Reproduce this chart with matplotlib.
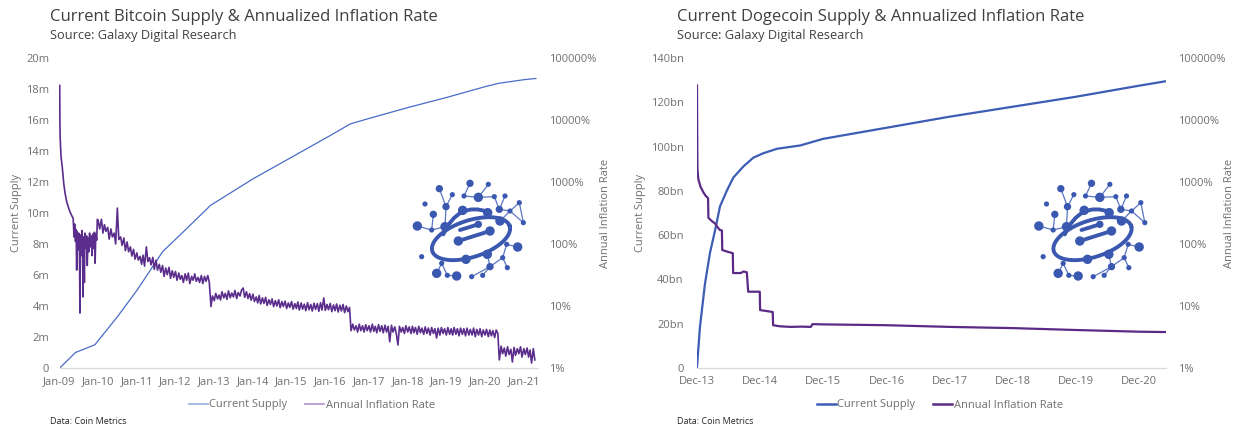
import numpy as np
import pandas as pd
import matplotlib
matplotlib.use('Agg')
import matplotlib.pyplot as plt
from matplotlib.lines import Line2D
from matplotlib.path import Path
from matplotlib.patches import PathPatch
from matplotlib.ticker import FixedLocator, FixedFormatter, NullLocator

plt.rcParams['font.family'] = ['Open Sans', 'DejaVu Sans']

# ------------------------------------------------------------------ data
# Bitcoin supply (millions)
btc_supply_dates = ['2009-01-03', '2009-06-01', '2009-12-01', '2010-07-01', '2011-01-01',
                    '2011-09-01', '2012-04-01', '2012-11-28', '2014-01-01', '2015-01-01',
                    '2016-01-01', '2016-07-09', '2017-01-01', '2018-01-01', '2019-01-01',
                    '2020-01-01', '2020-05-11', '2021-01-01', '2021-04-25']
btc_supply_m = [0.0, 1.0, 1.5, 3.3, 5.0, 7.5, 8.9, 10.5, 12.2, 13.6,
                15.0, 15.75, 16.1, 16.8, 17.45, 18.15, 18.37, 18.6, 18.68]

# Bitcoin annualized inflation (%) - 2009 explicit points
btc_infl_2009_dates = ['2009-01-03', '2009-01-05', '2009-01-07', '2009-01-15', '2009-01-27',
                       '2009-02-10', '2009-02-22', '2009-03-10', '2009-03-25', '2009-04-10',
                       '2009-04-25', '2009-05-10', '2009-05-18', '2009-05-24', '2009-06-01',
                       '2009-06-07', '2009-06-12', '2009-06-17', '2009-06-24', '2009-07-01',
                       '2009-07-08', '2009-07-13', '2009-07-18', '2009-07-25', '2009-08-01',
                       '2009-08-07', '2009-08-11', '2009-08-16', '2009-08-24', '2009-08-29',
                       '2009-09-06', '2009-09-14', '2009-09-20', '2009-09-27', '2009-10-05',
                       '2009-10-12', '2009-10-20', '2009-10-28', '2009-11-05', '2009-11-12',
                       '2009-11-20', '2009-11-27', '2009-12-03', '2009-12-10', '2009-12-18',
                       '2009-12-24']
btc_infl_2009 = [36000, 9000, 5300, 2600, 1750, 950, 665, 480, 395, 330,
                 290, 260, 130, 210, 110, 170, 38, 160, 80, 150,
                 95, 7.7, 140, 65, 165, 90, 14, 130, 24, 150,
                 85, 135, 45, 125, 75, 150, 90, 135, 65, 145,
                 85, 155, 49, 145, 115, 250]
# semi-monthly readings (1st and 15th of each month)
btc_infl_2010 = [240, 175, 250, 150, 205, 160, 185, 120, 175, 130, 150, 100,
                 380, 118, 130, 95, 125, 78, 108, 75, 90, 64, 82, 57]
btc_infl_2011 = [72, 55, 63, 47, 66, 44, 90, 52, 60, 46, 61, 39,
                 55, 38, 47, 35, 45, 30, 41, 32, 42, 28, 37, 29]
btc_infl_2012 = [36, 26, 34, 27, 31, 24, 33, 26, 34, 23, 30, 26,
                 33, 25, 29, 24, 31, 23, 30, 25, 31, 24, 9.8, 14.5]
btc_infl_2013 = [12.2, 16, 13, 15, 12.5, 17, 13.5, 16, 12.8, 17.5, 13.6, 16.2,
                 14, 17.8, 13.2, 16.5, 14.5, 18, 19.5, 13.8, 17, 13.2, 15.8, 12.4]
btc_infl_2014 = [15.5, 11.8, 14, 11.2, 14.8, 10.8, 13.5, 11, 13.8, 10.2, 12.6, 10.6,
                 13, 9.8, 12.2, 10, 12.6, 9.4, 11.8, 9.8, 12, 9.1, 11.2, 9.5]
btc_infl_2015 = [11.8, 8.9, 10.9, 9.1, 11.6, 8.6, 11.2, 8.9, 10.7, 8.4, 11.3, 8.7,
                 10.6, 8.3, 11.1, 8.8, 10.9, 8.2, 11.3, 8.6, 13.5, 8.5, 10.6, 8.7]
btc_infl_2016 = [11, 8.1, 10.4, 8.4, 10.8, 8, 10.3, 8.3, 10.6, 7.8, 10, 8.1,
                 9.5, 4.0, 5.1, 4.1, 4.8, 3.8, 5.1, 4.0, 4.8, 3.8, 5.0, 4.0]
btc_infl_2017 = [4.8, 3.8, 5.1, 3.9, 4.7, 3.7, 5.0, 3.9, 4.8, 3.7, 4.9, 3.8,
                 4.7, 2.65, 4.9, 3.8, 4.6, 3.6, 2.35, 4.7, 3.8, 4.5, 3.6, 4.8]
btc_infl_2018 = [3.8, 4.6, 3.6, 4.7, 3.7, 4.5, 3.5, 4.7, 3.7, 4.4, 3.5, 4.6,
                 3.6, 4.4, 3.4, 4.5, 3.6, 4.3, 3.05, 4.4, 3.4, 4.5, 3.6, 4.3]
btc_infl_2019 = [3.4, 4.5, 3.5, 4.3, 3.4, 4.5, 3.5, 4.3, 3.3, 4.4, 3.5, 4.3,
                 3.3, 4.4, 3.4, 4.2, 3.4, 4.4, 3.2, 4.2, 3.4, 4.3, 3.2, 4.1]
btc_infl_2020 = [3.4, 4.2, 3.2, 4.1, 3.3, 4.0, 3.1, 4.1, 3.6, 1.35, 2.25, 1.7,
                 2.1, 1.55, 2.2, 1.65, 2.0, 1.25, 2.15, 1.6, 2.05, 1.7, 2.2, 1.5]
btc_infl_2021 = [2.05, 1.65, 2.1, 1.5, 1.95, 1.2, 2.05, 1.35]

btc_ticks = ['2009-01-01', '2010-01-01', '2011-01-01', '2012-01-01', '2013-01-01',
             '2014-01-01', '2015-01-01', '2016-01-01', '2017-01-01', '2018-01-01',
             '2019-01-01', '2020-01-01', '2021-01-01']
btc_tick_labels = ['Jan-09', 'Jan-10', 'Jan-11', 'Jan-12', 'Jan-13', 'Jan-14', 'Jan-15',
                   'Jan-16', 'Jan-17', 'Jan-18', 'Jan-19', 'Jan-20', 'Jan-21']
btc_supply_ticks = [0, 2, 4, 6, 8, 10, 12, 14, 16, 18, 20]
btc_supply_labels = ['0', '2m', '4m', '6m', '8m', '10m', '12m', '14m', '16m', '18m', '20m']

# Dogecoin supply (billions)
doge_supply_dates = ['2013-12-06', '2013-12-23', '2014-01-21', '2014-02-19', '2014-03-20',
                     '2014-04-18', '2014-05-27', '2014-07-04', '2014-08-31', '2014-10-28',
                     '2014-12-25', '2015-03-13', '2015-07-26', '2015-12-06', '2016-12-06',
                     '2017-12-06', '2018-12-06', '2019-12-06', '2020-12-06', '2021-05-08']
doge_supply_bn = [0.5, 18.5, 38, 52, 62, 73, 80, 86, 91, 95,
                  97, 99, 100.5, 103.5, 108.5, 113.5, 118, 122.5, 127.5, 129.5]

# Dogecoin annualized inflation (%)
doge_infl_dates = ['2013-12-06', '2013-12-07', '2013-12-08', '2013-12-09', '2013-12-14',
                   '2013-12-27', '2014-01-12', '2014-01-25', '2014-02-08', '2014-02-10',
                   '2014-03-05', '2014-03-20', '2014-04-05', '2014-04-18', '2014-04-29',
                   '2014-05-01', '2014-06-01', '2014-07-01', '2014-07-03', '2014-08-15',
                   '2014-09-01', '2014-09-20', '2014-09-28', '2014-12-04', '2014-12-06',
                   '2015-02-17', '2015-02-19', '2015-04-01', '2015-06-01', '2015-08-01',
                   '2015-09-25', '2015-10-05', '2015-12-06', '2016-12-06', '2017-12-06',
                   '2018-12-06', '2019-12-06', '2020-12-06', '2021-05-08']
doge_infl = [36000, 7700, 2600, 1550, 1100, 830, 680, 600, 550, 264,
             230, 215, 185, 168, 165, 80, 75, 71, 34, 34,
             36, 35, 17, 17, 8.6, 8.0, 4.9, 4.7, 4.6, 4.65,
             4.6, 5.1, 5.05, 4.9, 4.6, 4.4, 4.1, 3.85, 3.8]

doge_ticks = ['2013-12-06', '2014-12-06', '2015-12-06', '2016-12-06', '2017-12-06',
              '2018-12-06', '2019-12-06', '2020-12-06']
doge_tick_labels = ['Dec-13', 'Dec-14', 'Dec-15', 'Dec-16', 'Dec-17', 'Dec-18',
                    'Dec-19', 'Dec-20']
doge_supply_ticks = [0, 20, 40, 60, 80, 100, 120, 140]
doge_supply_labels = ['0', '20bn', '40bn', '60bn', '80bn', '100bn', '120bn', '140bn']

infl_ticks = [1, 10, 100, 1000, 10000, 100000]
infl_labels = ['1%', '10%', '100%', '1000%', '10000%', '100000%']

# ------------------------------------------------------------------ assemble BTC inflation
btc_years = [(2010, btc_infl_2010), (2011, btc_infl_2011), (2012, btc_infl_2012),
             (2013, btc_infl_2013), (2014, btc_infl_2014), (2015, btc_infl_2015),
             (2016, btc_infl_2016), (2017, btc_infl_2017), (2018, btc_infl_2018),
             (2019, btc_infl_2019), (2020, btc_infl_2020), (2021, btc_infl_2021)]
bi_dates = list(pd.to_datetime(btc_infl_2009_dates))
bi_vals = list(btc_infl_2009)
for yr, vals in btc_years:
    d = pd.date_range(f'{yr}-01-01', periods=24, freq='SMS')[:len(vals)]
    bi_dates += list(d)
    bi_vals += list(vals)

# ------------------------------------------------------------------ figure
W, H = 1239, 429
fig = plt.figure(figsize=(W / 100, H / 100), dpi=100)

def rect(x0, y0, x1, y1):
    return [x0 / W, 1 - y1 / H, (x1 - x0) / W, (y1 - y0) / H]

TITLE_C = '#404040'
TICK_C = '#6f6f6f'
LAB_C = '#6f6f6f'
BLUE = '#4a6cc8'
PURPLE = '#5b2d8c'
BLUE_D = '#3d5cb4'
PURPLE_D = '#5a2a86'
LOGO_C = '#3a58b0'


def style_axes(ax, ax2, lpad, rpad):
    for s in ['top', 'left', 'right']:
        ax.spines[s].set_visible(False)
        ax2.spines[s].set_visible(False)
    ax2.spines['bottom'].set_visible(False)
    ax.spines['bottom'].set_color('#d9d9d9')
    ax.spines['bottom'].set_linewidth(0.9)
    ax.tick_params(axis='y', length=0, pad=lpad, labelsize=8, labelcolor=TICK_C)
    ax.tick_params(axis='x', length=0, pad=5.5, labelsize=8, labelcolor=TICK_C)
    ax2.tick_params(axis='y', length=0, pad=rpad, labelsize=8, labelcolor=TICK_C)
    ax2.yaxis.set_minor_locator(NullLocator())


def draw_logo(x0, y0):
    la = fig.add_axes(rect(x0, y0, x0 + 120, y0 + 112))
    la.set_xlim(0, 360)
    la.set_ylim(336, 0)
    la.axis('off')
    edges = [((180, 22), (162, 60)), ((162, 60), (205, 64)), ((235, 25), (205, 64)),
             ((205, 64), (253, 62)), ((253, 62), (268, 100)), ((285, 60), (268, 100)),
             ((268, 100), (300, 105)), ((300, 105), (328, 80)), ((328, 80), (340, 140)),
             ((300, 105), (340, 140)), ((88, 38), (108, 92)), ((127, 56), (108, 92)),
             ((108, 92), (105, 152)), ((70, 115), (65, 162)), ((22, 150), (65, 162)),
             ((65, 162), (105, 152)), ((323, 213), (290, 205)), ((290, 205), (278, 245)),
             ((278, 245), (292, 275)), ((240, 272), (278, 245)), ((185, 302), (240, 272)),
             ((218, 298), (240, 272)), ((95, 262), (80, 292)), ((95, 262), (112, 298)),
             ((112, 298), (140, 300)), ((270, 135), (300, 105)), ((232, 235), (240, 272))]
    for (a, b) in edges:
        la.plot([a[0], b[0]], [a[1], b[1]], color='#5a76c4', lw=0.9, solid_capstyle='round')
    # ring
    t = np.linspace(0, 2 * np.pi, 200)
    th = np.deg2rad(-18)
    a_, b_ = 122, 55
    cx, cy = 183, 188
    ex = cx + a_ * np.cos(t) * np.cos(th) - b_ * np.sin(t) * np.sin(th)
    ey = cy + a_ * np.cos(t) * np.sin(th) + b_ * np.sin(t) * np.cos(th)
    la.plot(ex, ey, color=LOGO_C, lw=2.8)
    # G arc
    p = Path([(100, 175), (145, 75), (235, 108)], [Path.MOVETO, Path.CURVE3, Path.CURVE3])
    la.add_patch(PathPatch(p, fill=False, ec=LOGO_C, lw=2.8, capstyle='round'))
    la.plot([145, 240], [195, 165], color=LOGO_C, lw=2.8, solid_capstyle='round')
    la.plot([205, 150], [145, 162], color=LOGO_C, lw=2.8, solid_capstyle='round')
    nodes = [(180, 22, 'm'), (235, 25, 's'), (88, 38, 'm'), (127, 56, 's'), (162, 60, 's'),
             (205, 64, 'b'), (253, 62, 's'), (285, 60, 's'), (45, 84, 's'), (108, 92, 'm'),
             (328, 80, 's'), (158, 103, 'b'), (233, 110, 'b'), (268, 100, 'm'), (300, 105, 's'),
             (70, 115, 'm'), (270, 135, 'b'), (340, 140, 's'), (22, 150, 'b'), (65, 162, 's'),
             (105, 152, 'b'), (205, 145, 'm'), (240, 165, 'b'), (145, 195, 'b'), (290, 205, 's'),
             (323, 213, 'b'), (232, 235, 'b'), (168, 250, 'b'), (35, 242, 's'), (278, 245, 's'),
             (95, 262, 's'), (240, 272, 'm'), (292, 275, 's'), (80, 292, 'b'), (112, 298, 's'),
             (140, 300, 'b'), (185, 302, 's'), (218, 298, 's')]
    sz = {'b': 46, 'm': 28, 's': 14}
    la.scatter([n[0] for n in nodes], [n[1] for n in nodes],
               s=[sz[n[2]] for n in nodes], color=LOGO_C, zorder=5, linewidths=0)


# ---------------- Bitcoin panel
ax = fig.add_axes(rect(59.5, 58, 538, 368))
ax2 = ax.twinx()
ax.plot(pd.to_datetime(btc_supply_dates), btc_supply_m, color=BLUE, lw=0.9)
ax2.plot(bi_dates, bi_vals, color=PURPLE, lw=1.2)
ax.set_xlim(pd.Timestamp('2009-01-01'), pd.Timestamp('2021-05-15'))
ax.set_ylim(0, 20)
ax2.set_yscale('log')
ax2.set_ylim(1, 100000)
ax.xaxis.set_major_locator(FixedLocator(matplotlib.dates.date2num(pd.to_datetime(btc_ticks))))
ax.xaxis.set_major_formatter(FixedFormatter(btc_tick_labels))
ax.yaxis.set_major_locator(FixedLocator(btc_supply_ticks))
ax.yaxis.set_major_formatter(FixedFormatter(btc_supply_labels))
ax2.yaxis.set_major_locator(FixedLocator(infl_ticks))
ax2.yaxis.set_major_formatter(FixedFormatter(infl_labels))
style_axes(ax, ax2, 7.5, 8)

fig.text(50 / W, 1 - 17 / H, 'Current Bitcoin Supply & Annualized Inflation Rate',
         fontsize=12, color=TITLE_C, ha='left', va='center')
fig.text(50 / W, 1 - 35 / H, 'Source: Galaxy Digital Research',
         fontsize=9.2, color=TITLE_C, ha='left', va='center')
fig.text(50 / W, 1 - 421 / H, 'Data: Coin Metrics', fontsize=6.5, color='#262626',
         ha='left', va='center')
fig.text(17 / W, 1 - 213 / H, 'Current Supply', rotation=90, fontsize=8, color=LAB_C,
         ha='center', va='center')
fig.text(605 / W, 1 - 213 / H, 'Annual Inflation Rate', rotation=90, fontsize=8,
         color=LAB_C, ha='center', va='center')
h1 = [Line2D([], [], color='#a3b4e2', lw=1.3), Line2D([], [], color='#b99ccf', lw=1.3)]
fig.legend(h1, ['Current Supply', 'Annual Inflation Rate'], loc='center',
           bbox_to_anchor=(312 / W, 1 - 405 / H), ncol=2, frameon=False, fontsize=8,
           handlelength=1.7, handletextpad=0.15, columnspacing=1.6, labelcolor=LAB_C)
draw_logo(410, 176)

# ---------------- Dogecoin panel
bx = fig.add_axes(rect(697, 58, 1166, 368))
bx2 = bx.twinx()
bx.plot(pd.to_datetime(doge_supply_dates), doge_supply_bn, color=BLUE_D, lw=1.6)
bx2.plot(pd.to_datetime(doge_infl_dates), doge_infl, color=PURPLE_D, lw=1.6)
bx.set_xlim(pd.Timestamp('2013-12-06'), pd.Timestamp('2021-05-10'))
bx.set_ylim(0, 140)
bx2.set_yscale('log')
bx2.set_ylim(1, 100000)
bx.xaxis.set_major_locator(FixedLocator(matplotlib.dates.date2num(pd.to_datetime(doge_ticks))))
bx.xaxis.set_major_formatter(FixedFormatter(doge_tick_labels))
bx.yaxis.set_major_locator(FixedLocator(doge_supply_ticks))
bx.yaxis.set_major_formatter(FixedFormatter(doge_supply_labels))
bx2.yaxis.set_major_locator(FixedLocator(infl_ticks))
bx2.yaxis.set_major_formatter(FixedFormatter(infl_labels))
style_axes(bx, bx2, 9.5, 8.5)

fig.text(677 / W, 1 - 17 / H, 'Current Dogecoin Supply & Annualized Inflation Rate',
         fontsize=12, color=TITLE_C, ha='left', va='center')
fig.text(677 / W, 1 - 35 / H, 'Source: Galaxy Digital Research',
         fontsize=9.2, color=TITLE_C, ha='left', va='center')
fig.text(677 / W, 1 - 421 / H, 'Data: Coin Metrics', fontsize=6.5, color='#262626',
         ha='left', va='center')
fig.text(641 / W, 1 - 213 / H, 'Current Supply', rotation=90, fontsize=8, color=LAB_C,
         ha='center', va='center')
fig.text(1229 / W, 1 - 213 / H, 'Annual Inflation Rate', rotation=90, fontsize=8,
         color=LAB_C, ha='center', va='center')
h2 = [Line2D([], [], color=BLUE_D, lw=1.8), Line2D([], [], color=PURPLE_D, lw=1.8)]
fig.legend(h2, ['Current Supply', 'Annual Inflation Rate'], loc='center',
           bbox_to_anchor=(940 / W, 1 - 405 / H), ncol=2, frameon=False, fontsize=8,
           handlelength=1.7, handletextpad=0.15, columnspacing=1.6, labelcolor=LAB_C)
draw_logo(1031.5, 176)

fig.savefig('out.png', dpi=100, facecolor='white')
